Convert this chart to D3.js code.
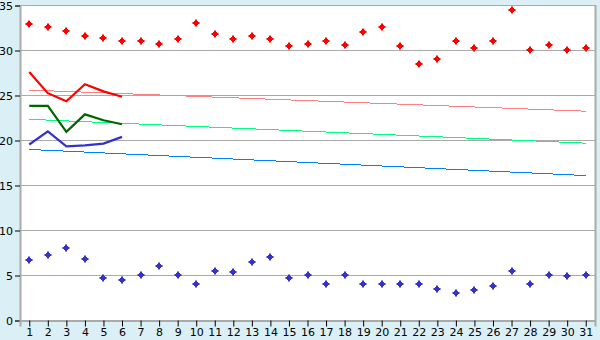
<!DOCTYPE html>
<html>
<head>
<meta charset="utf-8">
<script src="https://cdn.jsdelivr.net/npm/d3@7"></script>
<style>
  html, body { margin: 0; padding: 0; background: #daf0f6; }
  svg { display: block; }
  text { font-family: "DejaVu Sans", Verdana, sans-serif; font-size: 11px; fill: #000; }
</style>
</head>
<body>
<div id="container"></div>
<script>
const width = 600;
const height = 340;
const margin = { top: 5, right: 5, bottom: 20, left: 20 };

const days = d3.range(1, 32);
const yTicks = [0, 5, 10, 15, 20, 25, 30, 35];

// daily highs / lows (markers)
const highs = [32.9, 32.5, 32.1, 31.55, 31.3, 30.95, 30.95, 30.7, 31.2, 33.0,
  31.75, 31.2, 31.5, 31.2, 30.4, 30.7, 31.05, 30.6, 31.95, 32.6,
  30.4, 28.4, 28.95, 31.05, 30.2, 30.95, 34.4, 29.95, 30.6, 29.95, 30.2];
const lows = [6.65, 7.2, 7.95, 6.75, 4.65, 4.5, 4.95, 5.95, 4.95, 4.05,
  5.4, 5.3, 6.5, 6.95, 4.65, 5.05, 4.05, 4.95, 3.95, 3.95,
  3.95, 3.95, 3.4, 2.95, 3.3, 3.75, 5.4, 3.95, 4.95, 4.85, 4.95];

// first six days (thick lines)
const redLine = [27.55, 25.2, 24.3, 26.2, 25.4, 24.8];
const greenLine = [23.8, 23.8, 20.9, 22.85, 22.2, 21.75];
const blueLine = [19.5, 20.95, 19.3, 19.4, 19.6, 20.35];

// trend lines: value at day 1 and day 31
const redTrend = [25.55, 23.2];
const greenTrend = [22.3, 19.65];
const blueTrend = [18.95, 16.05];

const svg = d3.select("#container")
  .append("svg")
  .attr("width", width)
  .attr("height", height);

const x = d3.scalePoint()
  .domain(days)
  .range([margin.left, width - margin.right])
  .padding(0.5);

const y = d3.scaleLinear()
  .domain([0, 35])
  .range([height - margin.bottom, margin.top]);

// plot background
svg.append("rect")
  .attr("x", margin.left)
  .attr("y", margin.top)
  .attr("width", width - margin.left - margin.right)
  .attr("height", height - margin.top - margin.bottom)
  .attr("fill", "#fff");

// gridlines
svg.append("g")
  .selectAll("line")
  .data(yTicks.filter(d => d > 0))
  .join("line")
  .attr("x1", margin.left)
  .attr("x2", width - margin.right)
  .attr("y1", d => y(d) + 0.5)
  .attr("y2", d => y(d) + 0.5)
  .attr("stroke", "#aaa");

// right border
svg.append("line")
  .attr("x1", width - margin.right + 0.5)
  .attr("x2", width - margin.right + 0.5)
  .attr("y1", margin.top)
  .attr("y2", height - margin.bottom)
  .attr("stroke", "#aaa")
  .attr("stroke-width", 2);

// axes
const yAxis = svg.append("g")
  .attr("transform", `translate(${margin.left},0.5)`)
  .call(d3.axisLeft(y).tickValues(yTicks).tickSize(5).tickPadding(2));
yAxis.select(".domain").attr("stroke", "#aaa").attr("stroke-width", 2);
yAxis.selectAll(".tick line").attr("stroke", "#000");

const xAxis = svg.append("g")
  .attr("transform", `translate(0,${height - margin.bottom + 0.5})`)
  .call(d3.axisBottom(x).tickSize(6).tickPadding(2));
xAxis.select(".domain").attr("stroke", "#aaa").attr("stroke-width", 2);
xAxis.selectAll(".tick line").attr("stroke", "#000");

svg.selectAll(".tick text")
  .attr("font-family", "DejaVu Sans, sans-serif")
  .attr("font-size", 11);

// trend lines
const trends = [
  { vals: redTrend, color: "#ff8080" },
  { vals: greenTrend, color: "#00ff80" },
  { vals: blueTrend, color: "#0080ff" }
];
svg.append("g")
  .selectAll("line")
  .data(trends)
  .join("line")
  .attr("x1", x(1))
  .attr("x2", x(31))
  .attr("y1", d => y(d.vals[0]))
  .attr("y2", d => y(d.vals[1]))
  .attr("stroke", d => d.color)
  .attr("stroke-width", 1)
  .attr("shape-rendering", "crispEdges");

// thick lines
const line = d3.line()
  .x((d, i) => x(days[i]))
  .y(d => y(d));
const thick = [
  { vals: redLine, color: "#ff0000" },
  { vals: greenLine, color: "#006600" },
  { vals: blueLine, color: "#3333cc" }
];
svg.append("g")
  .selectAll("path")
  .data(thick)
  .join("path")
  .attr("d", d => line(d.vals))
  .attr("fill", "none")
  .attr("stroke", d => d.color)
  .attr("stroke-width", 2.2)
  .attr("stroke-linejoin", "miter");

// small plus-diamond markers
const marker = "M-1,-3.5h2v7h-2z M-3.5,-1h7v2h-7z M-2,-2h4v4h-4z";
function drawPoints(vals, color) {
  svg.append("g")
    .selectAll("path")
    .data(vals)
    .join("path")
    .attr("transform", (d, i) => `translate(${Math.round(x(days[i]))},${Math.round(y(d))})`)
    .attr("d", marker)
    .attr("fill", color);
}
drawPoints(highs, "#ff0000");
drawPoints(lows, "#3333cc");
</script>
</body>
</html>
